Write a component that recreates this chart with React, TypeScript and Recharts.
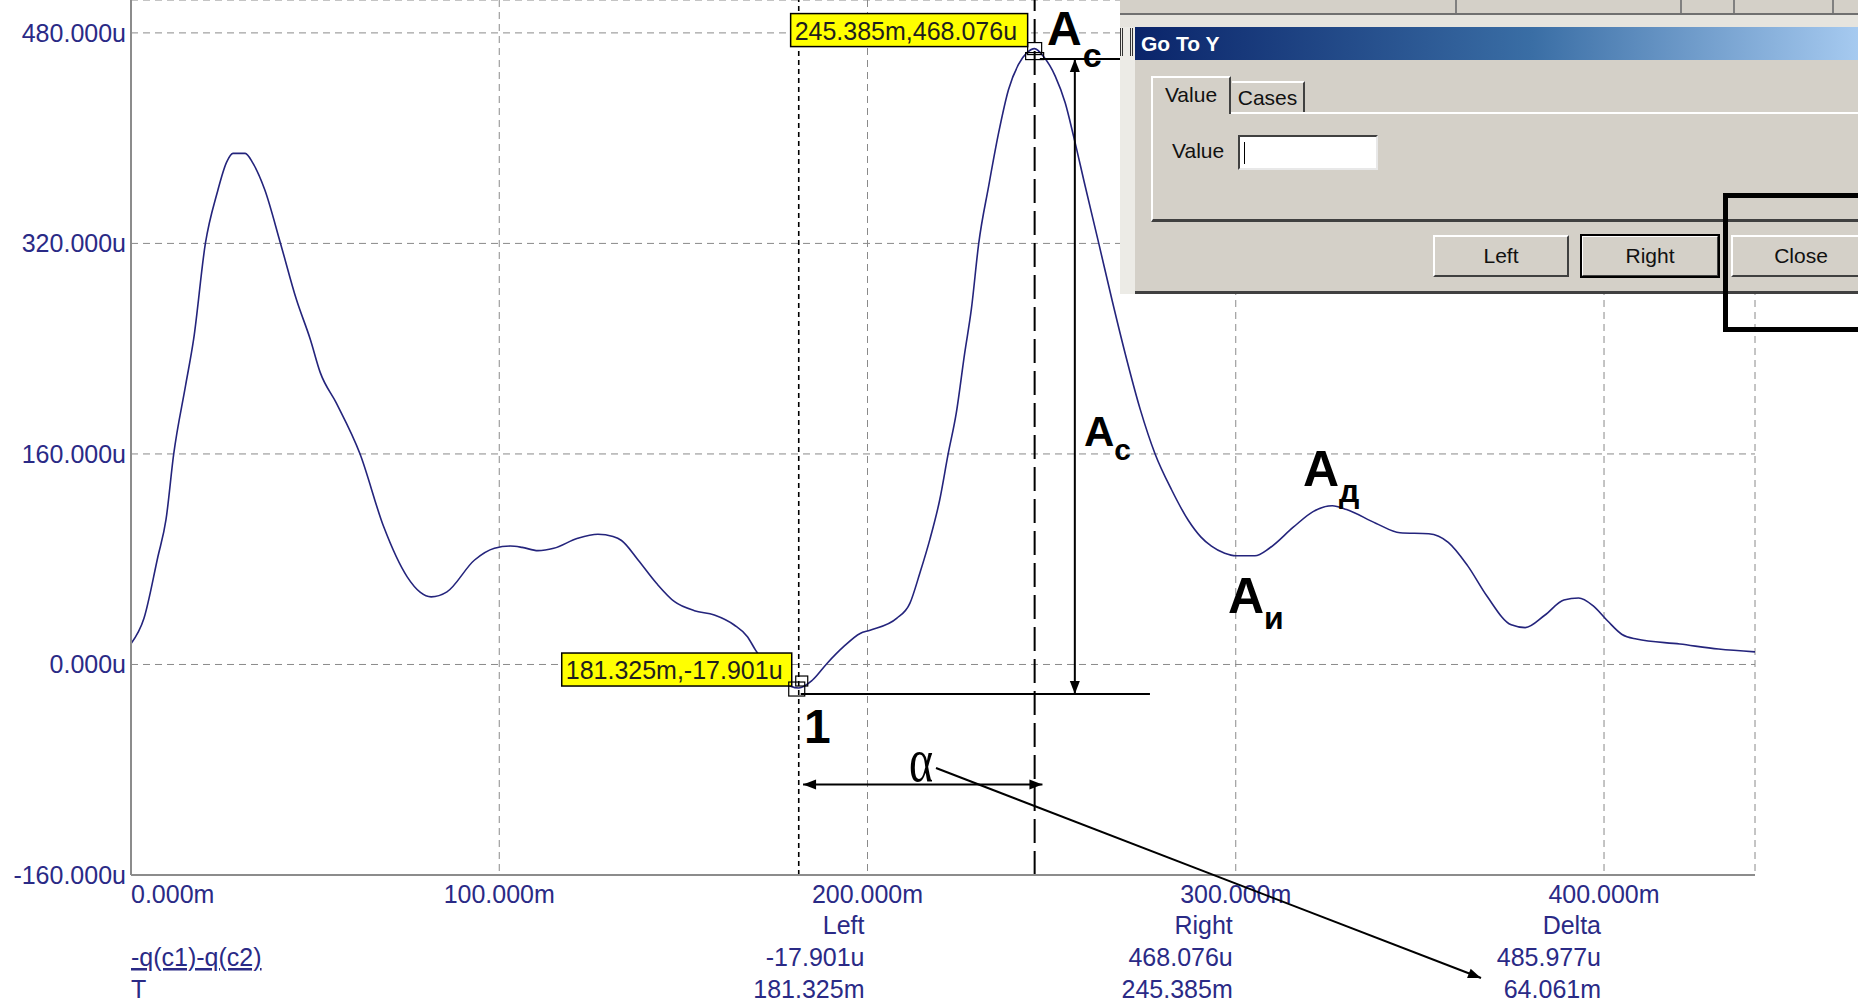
import { CartesianGrid, Line, LineChart, ReferenceLine, XAxis, YAxis } from 'recharts';

// probe trace -q(c1)-q(c2) against T (ms / uC)
const timeMs = [
  0, 3.5, 7.3, 9.5, 11.6, 14.8, 17, 20.2, 23.4, 26, 27.7, 31, 33.1, 36.3, 40.6, 44.9, 48.7, 51.4, 55.7, 62.2,
  68.6, 75, 78.5, 81.5, 85.8, 93.3, 98.7, 103, 106.2, 110.5, 114.8, 121.3, 126.8, 130.9, 133.2, 137.7, 142.7,
  147.6, 153, 158.4, 163.8, 167.4, 169.6, 173, 176.5, 181.325, 185, 189, 193.5, 198, 200.7, 207.9, 211.5, 214.2,
  216.9, 219.6, 221.9, 224.1, 226.4, 228.2, 230.2, 232.9, 235.6, 238.3, 241, 243.3, 245.385, 247.8, 251, 253.7,
  256, 259.1, 262.8, 266.4, 270, 274.1, 278.1, 282.6, 287.1, 290.5, 293.4, 297, 300, 305.2, 309.2, 315.7, 321,
  326.2, 330.1, 338, 344.6, 352.4, 357.7, 362.9, 368.2, 374.8, 378.6, 383.9, 389.1, 393.1, 397, 401, 404.9,
  408.8, 420.6, 431.1, 441,
];
const chargeU = [
  15.8, 34.9, 81.9, 110, 160, 211.7, 247, 320, 358.5, 382, 388.4, 388.4, 381, 361, 320, 277.5, 247, 221.8, 199,
  160, 104.8, 66.6, 55, 51.4, 55.2, 79.4, 88.3, 90, 89, 86.5, 88.3, 95.9, 99, 97.2, 94.2, 79.4, 61.7, 47.7, 40.9,
  37.6, 30, 21.1, 10.9, -2, -12, -17.901, -12, 0.8, 13.5, 23.6, 26.1, 35, 46.4, 69.3, 94.7, 125, 160, 191, 236.8,
  270, 320, 363.6, 404, 437, 456, 465, 468.076, 462, 447, 426.7, 401, 363.6, 320, 277, 236, 193.5, 160, 132.6,
  109.6, 97, 89.9, 84.5, 82.6, 82.6, 88.5, 104.5, 116.2, 120.6, 117.7, 107.4, 100.1, 99.3, 92.8, 75.3, 52, 30.1,
  28, 37.4, 49, 50.5, 44.7, 33, 22.8, 19.3, 15.5, 11.7, 9.6,
];
const xTicks = [0, 100, 200, 300, 400];
const yTicks = [-160, 0, 160, 320, 480];

const cursorLeft = { t: 181.325, v: -17.901, label: '181.325m,-17.901u' };
const cursorRight = { t: 245.385, v: 468.076, label: '245.385m,468.076u' };
const readoutHeads = ['Left', 'Right', 'Delta'];
const readoutValues = ['-17.901u', '468.076u', '485.977u'];
const readoutTimes = ['181.325m', '245.385m', '64.061m'];

const data = timeMs.map((t, i) => ({ t, q: chargeU[i] }));

const W = 1858;
const H = 1004;
const PL = 131;
const PR = 1755;
const PT = 0;
const PB = 875;
const X_DOMAIN: [number, number] = [0, 441];
const Y_DOMAIN: [number, number] = [-160, 505];

const px = (t: number) => PL + ((t - X_DOMAIN[0]) / (X_DOMAIN[1] - X_DOMAIN[0])) * (PR - PL);
const py = (v: number) => PB - ((v - Y_DOMAIN[0]) / (Y_DOMAIN[1] - Y_DOMAIN[0])) * (PB - PT);

const INK = '#2a2a86';
const SANS = '"Liberation Sans", Arial, sans-serif';
const GREY = '#d4d0c8';

function YTick(props: any) {
  const { y, payload } = props;
  return (
    <text x={PL - 5} y={y + 9} textAnchor="end" fontSize={25} fill={INK} fontFamily={SANS}>
      {`${payload.value.toFixed(3)}u`}
    </text>
  );
}

function XTick(props: any) {
  const { x, payload } = props;
  return (
    <text
      x={payload.value === 0 ? x : x}
      y={PB + 28}
      textAnchor={payload.value === 0 ? 'start' : 'middle'}
      fontSize={25}
      fill={INK}
      fontFamily={SANS}
    >
      {`${payload.value.toFixed(3)}m`}
    </text>
  );
}

function Arrow({ x1, y1, x2, y2, both = false }: { x1: number; y1: number; x2: number; y2: number; both?: boolean }) {
  const head = (fx: number, fy: number, tx: number, ty: number) => {
    const a = Math.atan2(ty - fy, tx - fx);
    const len = 13;
    const w = 5;
    const bx = tx - len * Math.cos(a);
    const by = ty - len * Math.sin(a);
    const p1 = `${bx + w * Math.sin(a)},${by - w * Math.cos(a)}`;
    const p2 = `${bx - w * Math.sin(a)},${by + w * Math.cos(a)}`;
    return <polygon points={`${tx},${ty} ${p1} ${p2}`} fill="#000" />;
  };
  return (
    <g>
      <line x1={x1} y1={y1} x2={x2} y2={y2} stroke="#000" strokeWidth={2} />
      {head(x1, y1, x2, y2)}
      {both && head(x2, y2, x1, y1)}
    </g>
  );
}

function Sub({ x, y, main, sub, size, subSize, dx, dy }: any) {
  return (
    <text x={x} y={y} fontFamily={SANS} fontWeight="bold" fontSize={size} fill="#000">
      {main}
      <tspan dx={dx} dy={dy} fontSize={subSize}>
        {sub}
      </tspan>
    </text>
  );
}

function Annotations() {
  const lx = px(cursorLeft.t);
  const ly = py(cursorLeft.v);
  const rx = px(cursorRight.t);
  const ry = py(cursorRight.v);
  const lowY = py(-22.4);
  const topY = py(460.2);
  const arrowX = px(256.3);
  const alphaY = py(-91.2);
  const cols = [200, 300, 400].map((t) => px(t) - 3);
  return (
    <svg width={W} height={H} style={{ position: 'absolute', left: 0, top: 0, pointerEvents: 'none' }}>
      {/* cursor readout boxes */}
      <rect x={rx - 7 - 237} y={ry - 2 - 33} width={237} height={33} fill="#ffff00" stroke="#000" strokeWidth={1.5} />
      <text x={rx - 7 - 233} y={ry - 2 - 7} fontSize={25} fontFamily={SANS} fill="#1e1e1e">
        {cursorRight.label}
      </text>
      <rect x={rx - 7} y={ry - 6} width={14} height={12} fill="none" stroke="#000" strokeWidth={1.2} />
      <rect x={rx - 9} y={ry + 4} width={18} height={7} fill="none" stroke="#000" strokeWidth={1.2} />

      <rect x={lx - 7 - 230} y={ly - 2 - 33} width={230} height={33} fill="#ffff00" stroke="#000" strokeWidth={1.5} />
      <text x={lx - 7 - 226} y={ly - 2 - 7} fontSize={25} fontFamily={SANS} fill="#1e1e1e">
        {cursorLeft.label}
      </text>
      <rect x={lx - 10} y={ly - 6} width={16} height={14} fill="none" stroke="#000" strokeWidth={1.2} />
      <rect x={lx - 3} y={ly - 12} width={12} height={10} fill="none" stroke="#000" strokeWidth={1.2} />

      {/* amplitude / time construction */}
      <line x1={lx + 2} y1={lowY} x2={px(276.7)} y2={lowY} stroke="#000" strokeWidth={2} />
      <line x1={px(246.8)} y1={topY} x2={px(275)} y2={topY} stroke="#000" strokeWidth={2} />
      <Arrow x1={arrowX} y1={lowY} x2={arrowX} y2={topY} both />
      <Arrow x1={px(182.5)} y1={alphaY} x2={px(247.5)} y2={alphaY} both />
      <Arrow x1={936} y1={768} x2={1481} y2={978} />

      <Sub x={1047} y={45} main="А" sub="с" size={48} subSize={34} dx={1} dy={22} />
      <Sub x={1084} y={446} main="А" sub="с" size={42} subSize={30} dx={0} dy={14} />
      <Sub x={1303} y={486} main="А" sub="д" size={50} subSize={32} dx={0} dy={16} />
      <Sub x={1228} y={613} main="А" sub="и" size={50} subSize={32} dx={0} dy={16} />
      <text x={804} y={743} fontFamily={SANS} fontWeight="bold" fontSize={48} fill="#000">
        1
      </text>
      <text
        x={0}
        y={0}
        transform="translate(909,781) scale(1,1.35)"
        fontFamily='"Liberation Serif", "Times New Roman", serif'
        fontSize={46}
        fill="#000"
      >
        α
      </text>

      {/* probe readout */}
      <text x={PL} y={966} fontSize={25} fontFamily={SANS} fill={INK} textDecoration="underline">
        -q(c1)-q(c2)
      </text>
      <text x={PL} y={998} fontSize={25} fontFamily={SANS} fill={INK}>
        T
      </text>
      {cols.map((cx, i) => (
        <g key={readoutHeads[i]} fontSize={25} fontFamily={SANS} fill={INK} textAnchor="end">
          <text x={cx} y={934}>
            {readoutHeads[i]}
          </text>
          <text x={cx} y={966}>
            {readoutValues[i]}
          </text>
          <text x={cx} y={998}>
            {readoutTimes[i]}
          </text>
        </g>
      ))}
    </svg>
  );
}

const raised = {
  borderTop: '2px solid #ffffff',
  borderLeft: '2px solid #ffffff',
  borderRight: '2px solid #404040',
  borderBottom: '2px solid #404040',
};

function GoToDialog() {
  const btn = (left: number, width: number, label: string, extra: any = {}) => (
    <div
      style={{
        position: 'absolute',
        left,
        top: 235,
        width,
        height: 42,
        boxSizing: 'border-box',
        background: GREY,
        ...raised,
        display: 'flex',
        alignItems: 'center',
        justifyContent: 'center',
        fontSize: 21,
        color: '#111',
        ...extra,
      }}
    >
      {label}
    </div>
  );
  return (
    <div style={{ position: 'absolute', left: 0, top: 0, width: W, height: H, pointerEvents: 'none', fontFamily: SANS }}>
      {/* underlying toolbar strip */}
      <div style={{ position: 'absolute', left: 1120, top: 0, width: 738, height: 13, background: GREY, borderBottom: '2px solid #707070' }} />
      {[1455, 1680, 1733, 1832].map((x) => (
        <div key={x} style={{ position: 'absolute', left: x, top: 0, width: 2, height: 13, background: '#808080' }} />
      ))}
      <div style={{ position: 'absolute', left: 1120, top: 15, width: 738, height: 12, background: '#e6e4de' }} />
      <div style={{ position: 'absolute', left: 1120, top: 27, width: 15, height: 267, background: '#ecebe6' }} />
      <div style={{ position: 'absolute', left: 1120, top: 28, width: 13, height: 28, borderLeft: '3px double #333', borderRight: '3px double #333', boxSizing: 'border-box' }} />
      {/* title bar */}
      <div
        style={{
          position: 'absolute',
          left: 1135,
          top: 27,
          width: 723,
          height: 33,
          background: 'linear-gradient(to right, #0a246a, #3a6ea5 55%, #a6caf0)',
          color: '#fff',
          fontWeight: 'bold',
          fontSize: 21,
          lineHeight: '33px',
          paddingLeft: 6,
          boxSizing: 'border-box',
        }}
      >
        Go To Y
      </div>
      {/* body */}
      <div style={{ position: 'absolute', left: 1135, top: 60, width: 723, height: 234, background: GREY, borderBottom: '3px solid #404040', boxSizing: 'border-box' }} />
      <div
        style={{
          position: 'absolute',
          left: 1151,
          top: 112,
          width: 710,
          height: 110,
          boxSizing: 'border-box',
          borderTop: '2px solid #ffffff',
          borderLeft: '2px solid #ffffff',
          borderBottom: '3px solid #404040',
        }}
      />
      <div
        style={{
          position: 'absolute',
          left: 1151,
          top: 76,
          width: 80,
          height: 38,
          boxSizing: 'border-box',
          background: GREY,
          borderTop: '2px solid #fff',
          borderLeft: '2px solid #fff',
          borderRight: '2px solid #404040',
          fontSize: 21,
          color: '#111',
          textAlign: 'center',
          lineHeight: '34px',
        }}
      >
        Value
      </div>
      <div
        style={{
          position: 'absolute',
          left: 1232,
          top: 81,
          width: 73,
          height: 31,
          boxSizing: 'border-box',
          borderTop: '2px solid #fff',
          borderRight: '2px solid #404040',
          fontSize: 21,
          color: '#111',
          textAlign: 'center',
          lineHeight: '30px',
        }}
      >
        Cases
      </div>
      <div style={{ position: 'absolute', left: 1172, top: 139, fontSize: 21, color: '#111' }}>Value</div>
      <div
        style={{
          position: 'absolute',
          left: 1238,
          top: 135,
          width: 140,
          height: 35,
          boxSizing: 'border-box',
          background: '#fff',
          borderTop: '2px solid #404040',
          borderLeft: '2px solid #404040',
          borderRight: '2px solid #e8e8e8',
          borderBottom: '2px solid #e8e8e8',
        }}
      >
        <div style={{ position: 'absolute', left: 4, top: 5, width: 1, height: 22, background: '#000' }} />
      </div>
      {btn(1433, 136, 'Left')}
      {btn(1581, 138, 'Right', { outline: '2px solid #000', outlineOffset: -1 })}
      {btn(1731, 140, 'Close')}
      {/* highlight frame */}
      <div style={{ position: 'absolute', left: 1723, top: 193, width: 160, height: 139, border: '5px solid #000', boxSizing: 'border-box' }} />
    </div>
  );
}

export default function App() {
  return (
    <div style={{ position: 'relative', width: W, height: H, background: '#fff', overflow: 'hidden' }}>
      <style>{'body{margin:0;}'}</style>
      <LineChart width={W} height={H} data={data} margin={{ top: PT, right: W - PR, bottom: H - PB - 30, left: 0 }}>
        <CartesianGrid stroke="#8a8a8a" strokeDasharray="7 5" />
        <XAxis
          dataKey="t"
          type="number"
          domain={X_DOMAIN}
          ticks={xTicks}
          allowDataOverflow
          height={30}
          tickLine={false}
          axisLine={{ stroke: '#8c8c8c', strokeWidth: 2 }}
          tick={<XTick />}
        />
        <YAxis
          type="number"
          domain={Y_DOMAIN}
          ticks={yTicks}
          allowDataOverflow
          width={PL}
          tickLine={false}
          axisLine={{ stroke: '#8c8c8c', strokeWidth: 2 }}
          tick={<YTick />}
        />
        <ReferenceLine x={cursorLeft.t} stroke="#000" strokeWidth={1.6} strokeDasharray="5 4" />
        <ReferenceLine x={cursorRight.t} stroke="#000" strokeWidth={2} strokeDasharray="24 8" />
        <Line
          type="monotone"
          dataKey="q"
          stroke="#24247c"
          strokeWidth={1.6}
          dot={false}
          isAnimationActive={false}
        />
      </LineChart>
      <Annotations />
      <GoToDialog />
    </div>
  );
}
